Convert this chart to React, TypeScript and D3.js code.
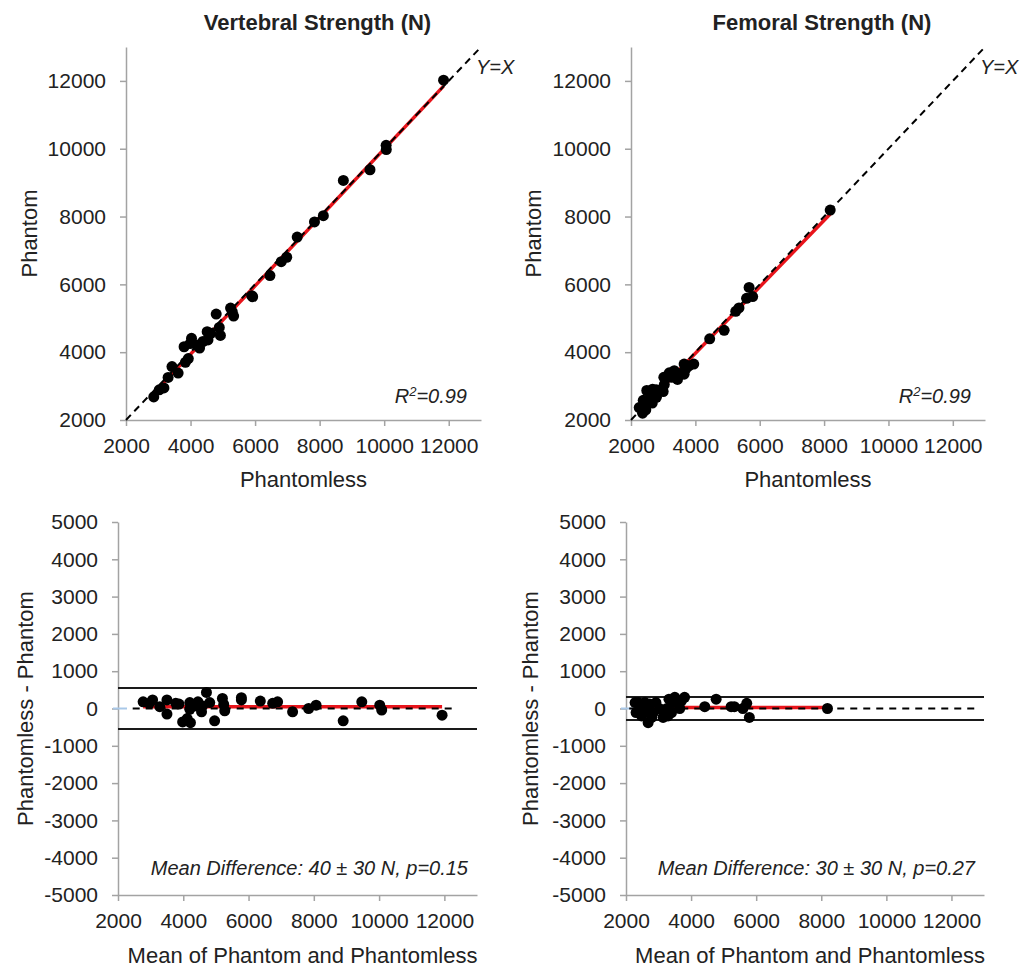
import React, { useEffect, useRef } from 'react';
import * as d3 from 'd3';

// Bland-Altman readings: mean of the two methods and phantomless - phantom
const vertMean = [2770, 3060, 2960, 3280, 3500, 3500, 3770, 3870, 3980, 4120, 4200, 4220, 4200, 4350, 4450, 4560, 4590, 4710, 4810, 4960, 5200, 5240, 5270, 5780, 5780, 6360, 6740, 6890, 7350, 7840, 8070, 8900, 9470, 10020, 10080, 11930];
const vertDiff = [180, 230, 140, 50, 230, -150, 140, 120, -360, -270, 160, -380, -20, 70, 180, -90, 70, 430, 160, -330, 270, 110, -60, 290, 230, 200, 140, 180, -90, 0, 90, -330, 180, 90, -40, -180];

const femMean = [8190, 5790, 5710, 5590, 5330, 5230, 4770, 4420, 3800, 3650, 3600, 3450, 3320, 3290, 3140, 3260, 2920, 2840, 2680, 2630, 2580, 2480, 2380, 2310, 2280, 2530, 2730, 3040, 3500, 3700, 3400, 2430, 2790];
const femDiff = [0, -240, 140, 0, 50, 50, 250, 50, 300, 0, 200, 160, 250, -200, -240, 0, 160, -110, -380, -60, 160, -200, 160, -110, 160, 30, 120, -10, 300, 200, -110, -30, -240];

const strengthTicks = [2000, 4000, 6000, 8000, 10000, 12000];
const diffTicks = [5000, 4000, 3000, 2000, 1000, 0, -1000, -2000, -3000, -4000, -5000];
const strengthDomain = [2000, 13000];
const diffDomain = [-5000, 5000];

const vertLimits = [550, -550];
const femLimits = [310, -310];
const vertZeroSpan = [2450, 12350];
const femZeroSpan = [2100, 12750];

const FONT = '"Liberation Sans", Arial, sans-serif';
const AXIS = '#a3a3a3';
const TEXT = '#222';
const RED = '#e8141b';

const styleAxis = (g) => {
  g.select('.domain').attr('stroke', AXIS).attr('stroke-width', 1.5);
  g.selectAll('.tick line').attr('stroke', AXIS).attr('stroke-width', 1.5);
  g.selectAll('.tick text')
    .attr('fill', TEXT)
    .style('font-family', FONT)
    .style('font-size', '21px');
};

const fitLine = (xs, ys) => {
  const mx = d3.mean(xs);
  const my = d3.mean(ys);
  let sxy = 0;
  let sxx = 0;
  xs.forEach((x, i) => {
    sxy += (x - mx) * (ys[i] - my);
    sxx += (x - mx) * (x - mx);
  });
  const b = sxy / sxx;
  return { a: my - b * mx, b };
};

const drawScatter = (svg, p) => {
  const x = d3.scaleLinear().domain(strengthDomain).range(p.xr);
  const y = d3.scaleLinear().domain(strengthDomain).range(p.yr);
  const pts = p.mean.map((m, i) => ({ less: m + p.diff[i] / 2, ph: m - p.diff[i] / 2 }));

  svg.append('g')
    .attr('transform', `translate(${p.xr[0]},0)`)
    .call(d3.axisLeft(y).tickValues(strengthTicks).tickSize(6).tickSizeOuter(0).tickPadding(14).tickFormat(d => String(d)))
    .call(styleAxis);
  svg.append('g')
    .attr('transform', `translate(0,${p.yr[0]})`)
    .call(d3.axisBottom(x).tickValues(strengthTicks).tickSize(6).tickSizeOuter(0).tickPadding(12).tickFormat(d => String(d)))
    .call(styleAxis);

  const xs = pts.map(d => d.less);
  const f = fitLine(xs, pts.map(d => d.ph));
  const x0 = d3.min(xs);
  const x1 = d3.max(xs);
  svg.append('line')
    .attr('x1', x(x0)).attr('y1', y(f.a + f.b * x0))
    .attr('x2', x(x1)).attr('y2', y(f.a + f.b * x1))
    .attr('stroke', RED).attr('stroke-width', 3.5);

  svg.append('line')
    .attr('x1', x(strengthDomain[0])).attr('y1', y(strengthDomain[0]))
    .attr('x2', x(strengthDomain[1])).attr('y2', y(strengthDomain[1]))
    .attr('stroke', '#000').attr('stroke-width', 2).attr('stroke-dasharray', '7,5');

  svg.append('g').selectAll('circle')
    .data(pts)
    .enter()
    .append('circle')
    .attr('cx', d => x(d.less))
    .attr('cy', d => y(d.ph))
    .attr('r', 5.5)
    .attr('fill', '#000');

  const txt = (t) => t.style('font-family', FONT).attr('fill', TEXT);

  svg.append('text').call(txt)
    .attr('x', p.xr[1] - 5).attr('y', 74)
    .style('font-size', '20px').style('font-style', 'italic')
    .text('Y=X');
  const r2 = svg.append('text').call(txt)
    .attr('x', p.xr[1] - 14).attr('y', 403)
    .attr('text-anchor', 'end')
    .style('font-size', '20px').style('font-style', 'italic');
  r2.append('tspan').text('R');
  r2.append('tspan').attr('dy', -7).style('font-size', '13px').text('2');
  r2.append('tspan').attr('dy', 7).text('=0.99');
  svg.append('text').call(txt)
    .attr('x', (p.xr[0] + p.xr[1]) / 2 + 14).attr('y', 30)
    .attr('text-anchor', 'middle')
    .style('font-size', '22px').style('font-weight', 'bold')
    .text(p.title);
  svg.append('text').call(txt)
    .attr('x', (p.xr[0] + p.xr[1]) / 2).attr('y', 487)
    .attr('text-anchor', 'middle')
    .style('font-size', '22px')
    .text('Phantomless');
  svg.append('text').call(txt)
    .attr('transform', `translate(${p.ylab},${(p.yr[0] + p.yr[1]) / 2}) rotate(-90)`)
    .attr('text-anchor', 'middle')
    .style('font-size', '22px')
    .text('Phantom');
};

const drawBland = (svg, p) => {
  const x = d3.scaleLinear().domain(strengthDomain).range(p.xr);
  const y = d3.scaleLinear().domain(diffDomain).range(p.yr);

  svg.append('g')
    .attr('transform', `translate(${p.xr[0]},0)`)
    .call(d3.axisLeft(y).tickValues(diffTicks).tickSize(6).tickSizeOuter(0).tickPadding(14).tickFormat(d => String(d)))
    .call(styleAxis);
  svg.append('g')
    .attr('transform', `translate(0,${p.yr[0]})`)
    .call(d3.axisBottom(x).tickValues(strengthTicks).tickSize(6).tickSizeOuter(0).tickPadding(12).tickFormat(d => String(d)))
    .call(styleAxis);

  // light blue zero tick
  svg.append('line')
    .attr('x1', p.xr[0] - 5).attr('x2', p.xr[0] + 9)
    .attr('y1', y(0)).attr('y2', y(0))
    .attr('stroke', '#a9c8e8').attr('stroke-width', 2);

  p.limits.forEach(v => {
    svg.append('line')
      .attr('x1', x(strengthDomain[0])).attr('x2', x(strengthDomain[1]))
      .attr('y1', y(v)).attr('y2', y(v))
      .attr('stroke', '#1a1a1a').attr('stroke-width', 2);
  });

  const md = d3.mean(p.diff);
  svg.append('line')
    .attr('x1', x(d3.min(p.mean))).attr('x2', x(d3.max(p.mean)))
    .attr('y1', y(md)).attr('y2', y(md))
    .attr('stroke', RED).attr('stroke-width', 3.5);

  svg.append('line')
    .attr('x1', x(p.zeroSpan[0])).attr('x2', x(p.zeroSpan[1]))
    .attr('y1', y(0)).attr('y2', y(0))
    .attr('stroke', '#000').attr('stroke-width', 2).attr('stroke-dasharray', '7,6');

  svg.append('g').selectAll('circle')
    .data(p.mean)
    .enter()
    .append('circle')
    .attr('cx', d => x(d))
    .attr('cy', (d, i) => y(p.diff[i]))
    .attr('r', 5.5)
    .attr('fill', '#000');

  const txt = (t) => t.style('font-family', FONT).attr('fill', TEXT);

  svg.append('text').call(txt)
    .attr('x', p.xr[1] - 9).attr('y', 875)
    .attr('text-anchor', 'end')
    .style('font-size', '20px').style('font-style', 'italic')
    .text(p.note);
  svg.append('text').call(txt)
    .attr('x', (p.xr[0] + p.xr[1]) / 2 + 5).attr('y', 963)
    .attr('text-anchor', 'middle')
    .style('font-size', '22px')
    .text('Mean of Phantom and Phantomless');
  svg.append('text').call(txt)
    .attr('transform', `translate(${p.ylab},${(p.yr[0] + p.yr[1]) / 2}) rotate(-90)`)
    .attr('text-anchor', 'middle')
    .style('font-size', '22px')
    .text('Phantomless - Phantom');
};

const App = () => {
  const svgRef = useRef(null);

  useEffect(() => {
    const svg = d3.select(svgRef.current);
    svg.selectAll('*').remove();

    drawScatter(svg, { xr: [126, 481], yr: [420, 47], ylab: 37, title: 'Vertebral Strength (N)', mean: vertMean, diff: vertDiff });
    drawScatter(svg, { xr: [631, 985], yr: [420, 47], ylab: 541, title: 'Femoral Strength (N)', mean: femMean, diff: femDiff });
    drawBland(svg, { xr: [118, 477], yr: [895, 522], ylab: 33, mean: vertMean, diff: vertDiff, limits: vertLimits, zeroSpan: vertZeroSpan, note: 'Mean Difference: 40 ± 30 N, p=0.15' });
    drawBland(svg, { xr: [626, 984], yr: [895, 522], ylab: 538, mean: femMean, diff: femDiff, limits: femLimits, zeroSpan: femZeroSpan, note: 'Mean Difference: 30 ± 30 N, p=0.27' });
  }, []);

  return (
    <svg
      ref={svgRef}
      width={1029}
      height={967}
      style={{ position: 'absolute', left: 0, top: 0, background: '#fff' }}
    />
  );
};

export default App;
